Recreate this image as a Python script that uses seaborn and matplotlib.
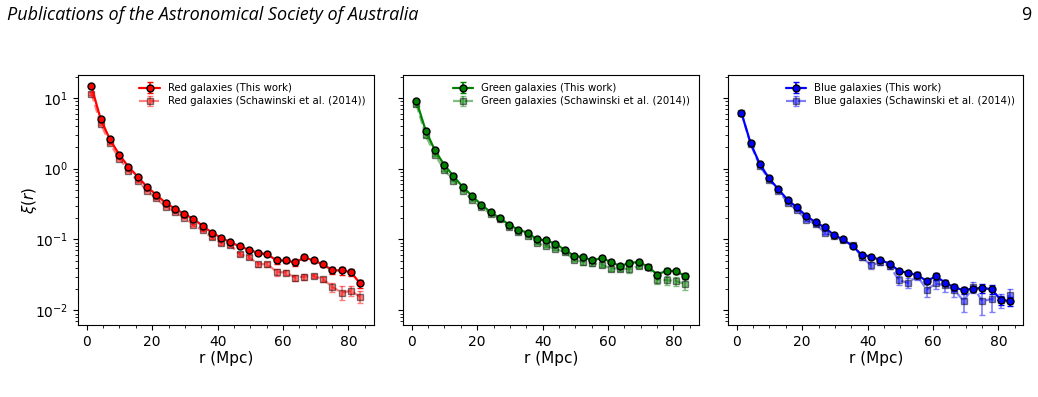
import matplotlib
matplotlib.use("Agg")
import matplotlib.pyplot as plt
from matplotlib.ticker import AutoMinorLocator
import seaborn as sns

# bin centres (Mpc)
r = [1.42, 4.25, 7.08, 9.92, 12.75, 15.58, 18.42, 21.25, 24.08, 26.92,
     29.75, 32.58, 35.42, 38.25, 41.08, 43.92, 46.75, 49.58, 52.42, 55.25,
     58.08, 60.92, 63.75, 66.58, 69.42, 72.25, 75.08, 77.92, 80.75, 83.58]

red_this = [14.5, 5.0, 2.58, 1.58, 1.06, 0.77, 0.553, 0.427, 0.329, 0.273,
            0.230, 0.195, 0.156, 0.125, 0.106, 0.0908, 0.0804, 0.0713, 0.0647, 0.0614,
            0.0505, 0.0505, 0.0473, 0.0557, 0.0505, 0.0444, 0.0368, 0.0365, 0.0348, 0.0239]
red_this_err = [0.5, 0.15, 0.07, 0.04, 0.025, 0.018, 0.013, 0.01, 0.008, 0.007,
                0.006, 0.005, 0.004, 0.004, 0.004, 0.004, 0.003, 0.003, 0.003, 0.003,
                0.005, 0.004, 0.005, 0.005, 0.004, 0.003, 0.004, 0.005, 0.004, 0.003]
red_sch = [11.5, 4.3, 2.27, 1.39, 0.94, 0.673, 0.49, 0.38, 0.292, 0.245,
           0.204, 0.162, 0.134, 0.107, 0.0895, 0.0832, 0.062, 0.0568, 0.0448, 0.0448,
           0.0348, 0.0341, 0.029, 0.030, 0.0306, 0.0275, 0.0214, 0.0178, 0.0188, 0.0155]
red_sch_err = [0.5, 0.15, 0.07, 0.04, 0.025, 0.018, 0.013, 0.01, 0.008, 0.007,
               0.006, 0.005, 0.004, 0.004, 0.005, 0.005, 0.004, 0.004, 0.004, 0.004,
               0.004, 0.003, 0.003, 0.003, 0.002, 0.002, 0.003, 0.004, 0.003, 0.003]

green_this = [9.0, 3.45, 1.81, 1.13, 0.785, 0.55, 0.413, 0.31, 0.244, 0.2,
              0.162, 0.137, 0.125, 0.1, 0.097, 0.087, 0.0715, 0.059, 0.056, 0.0507,
              0.0547, 0.048, 0.042, 0.0467, 0.048, 0.0412, 0.032, 0.0362, 0.0358, 0.0305]
green_this_err = [0.4, 0.12, 0.06, 0.035, 0.02, 0.015, 0.011, 0.008, 0.006, 0.005,
                  0.004, 0.004, 0.003, 0.003, 0.003, 0.003, 0.003, 0.003, 0.004, 0.003,
                  0.003, 0.003, 0.003, 0.004, 0.003, 0.003, 0.003, 0.003, 0.003, 0.003]
green_sch = [8.05, 2.94, 1.57, 0.97, 0.679, 0.491, 0.366, 0.285, 0.23, 0.193,
             0.149, 0.126, 0.112, 0.0883, 0.0818, 0.0734, 0.0668, 0.0521, 0.0483, 0.0458,
             0.0443, 0.0389, 0.0389, 0.0381, 0.042, 0.041, 0.0272, 0.0266, 0.026, 0.0234]
green_sch_err = [0.4, 0.12, 0.06, 0.035, 0.02, 0.015, 0.011, 0.008, 0.006, 0.005,
                 0.004, 0.004, 0.003, 0.003, 0.003, 0.003, 0.003, 0.003, 0.004, 0.003,
                 0.003, 0.003, 0.003, 0.004, 0.003, 0.003, 0.004, 0.004, 0.004, 0.004]

blue_this = [6.14, 2.27, 1.15, 0.726, 0.508, 0.362, 0.283, 0.215, 0.175, 0.148,
             0.115, 0.1, 0.0806, 0.0606, 0.0574, 0.0509, 0.0457, 0.036, 0.0337, 0.0313,
             0.026, 0.0301, 0.0245, 0.021, 0.0192, 0.0203, 0.0206, 0.0199, 0.014, 0.0135]
blue_this_err = [0.25, 0.08, 0.04, 0.025, 0.016, 0.012, 0.009, 0.007, 0.006, 0.005,
                 0.004, 0.004, 0.003, 0.003, 0.003, 0.003, 0.003, 0.002, 0.002, 0.003,
                 0.002, 0.003, 0.002, 0.002, 0.002, 0.002, 0.003, 0.003, 0.002, 0.002]
blue_sch = [6.14, 2.21, 1.08, 0.701, 0.485, 0.33, 0.259, 0.191, 0.164, 0.125,
            0.112, 0.0975, 0.0828, 0.0566, 0.0432, 0.0475, 0.042, 0.0266, 0.0244, 0.0306,
            0.0196, 0.0239, 0.0224, 0.0192, 0.0135, 0.0214, 0.0135, 0.0144, 0.0139, 0.0162]
blue_sch_err = [0.25, 0.08, 0.04, 0.025, 0.016, 0.012, 0.01, 0.008, 0.007, 0.006,
                0.005, 0.005, 0.004, 0.005, 0.005, 0.004, 0.004, 0.004, 0.004, 0.004,
                0.004, 0.004, 0.004, 0.004, 0.004, 0.004, 0.005, 0.005, 0.003, 0.004]

panels = [
    ("Red", "red", red_this, red_this_err, red_sch, red_sch_err),
    ("Green", "green", green_this, green_this_err, green_sch, green_sch_err),
    ("Blue", "blue", blue_this, blue_this_err, blue_sch, blue_sch_err),
]

sns.set_style("ticks", rc={"axes.edgecolor": "black", "xtick.color": "black",
                           "ytick.color": "black", "text.color": "black",
                           "axes.labelcolor": "black", "axes.linewidth": 0.8})
plt.rcParams["font.family"] = ["DejaVu Sans"]

fig = plt.figure(figsize=(10.38, 3.97), dpi=100)
W, H = 1038, 397
axes = []
for i in range(3):
    left = 78 + i * 325
    ax = fig.add_axes([left / W, 72 / H, 295.5 / W, 250 / H],
                      sharey=axes[0] if axes else None)
    axes.append(ax)

for ax, (name, col, y1, e1, y2, e2) in zip(axes, panels):
    ax.errorbar(r, y1, yerr=e1, fmt="-o", color=col, mfc=col, mec="black",
                ms=5, lw=1.6, capsize=2, elinewidth=1.2, zorder=3,
                label=f"{name} galaxies (This work)")
    ax.errorbar(r, y2, yerr=e2, fmt="--s", color=col, mfc=col, mec="black",
                ms=5, lw=1.6, capsize=2, elinewidth=1.2, alpha=0.5, zorder=2,
                label=f"{name} galaxies (Schawinski et al. (2014))")
    ax.set_yscale("log")
    ax.set_ylim(0.0062, 21)
    ax.set_xticks([0, 20, 40, 60, 80])
    ax.xaxis.set_minor_locator(AutoMinorLocator(4))
    ax.tick_params(which="both", direction="out", labelsize=10)
    ax.tick_params(which="major", length=3.5, width=0.8)
    ax.tick_params(which="minor", length=2, width=0.6)
    ax.set_xlabel("r (Mpc)", fontsize=11, labelpad=2)
    ax.legend(loc="upper right", frameon=False, fontsize=7.3,
              labelspacing=0.3, handlelength=2.0, borderaxespad=0.4)

for ax in axes[1:]:
    ax.tick_params(labelleft=False)
axes[0].set_ylabel(r"$\xi(r)$", fontsize=11, labelpad=-3)

fig.text(7 / W, 1 - 15 / H, "Publications of the Astronomical Society of Australia",
         fontsize=13, style="italic", family=["Open Sans", "DejaVu Sans"], va="center")
fig.text(1031 / W, 1 - 15 / H, "9", fontsize=13, family=["Open Sans", "DejaVu Sans"],
         ha="right", va="center")

fig.savefig("out.png", dpi=100)
